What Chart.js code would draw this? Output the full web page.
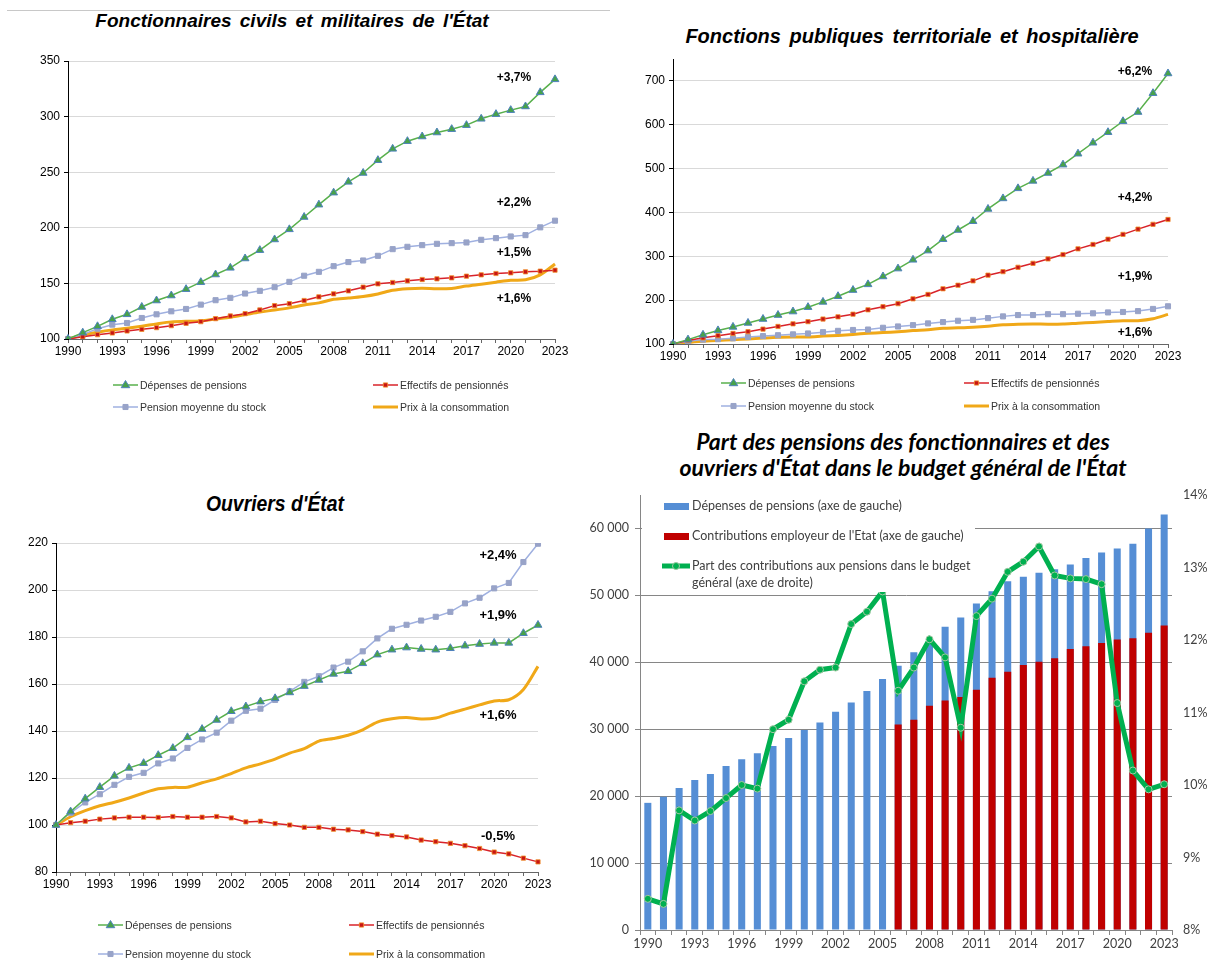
<!DOCTYPE html>
<html>
<head>
<meta charset="utf-8">
<script src="https://cdn.jsdelivr.net/npm/chart.js@4.4.1/dist/chart.umd.min.js"></script>
<style>
  body { margin: 0; background: #fff; width: 1212px; height: 960px; position: relative; overflow: hidden; }
  canvas { position: absolute; }
  .title { position: absolute; transform: translateX(-50%); white-space: nowrap; color: #000;
           font-family: 'Liberation Sans', Arial, sans-serif; font-weight: bold; font-style: italic; }
  .rule { position: absolute; left: 7px; top: 10px; width: 603px; height: 1px; background: #c8c8c8; }
</style>
</head>
<body>
<div class="rule"></div>
<div class="title" style="left:292px; top:10px; font-size:19px; word-spacing:3px;">Fonctionnaires civils et militaires de l'État</div>
<div class="title" style="left:912px; top:25px; font-size:20px; word-spacing:3px;">Fonctions publiques territoriale et hospitalière</div>
<div class="title" style="left:275px; top:491px; font-size:22px; transform:translateX(-50%) scaleX(0.88);">Ouvriers d'État</div>
<div class="title" style="left:903px; top:428px; font-size:23px; line-height:26px; text-align:center; font-family:Lato,'Open Sans',sans-serif;">Part des pensions des fonctionnaires et des<br>ouvriers d'État dans le budget général de l'État</div>

<canvas id="c1" width="610" height="420" style="left:0; top:0;"></canvas>
<canvas id="c2" width="602" height="420" style="left:610px; top:0;"></canvas>
<canvas id="c3" width="600" height="490" style="left:0; top:470px;"></canvas>
<canvas id="c4" width="632" height="540" style="left:580px; top:420px;"></canvas>

<script>
    "use strict";

    var years = ['1990', '1991', '1992', '1993', '1994', '1995', '1996', '1997', '1998', '1999',
        '2000', '2001', '2002', '2003', '2004', '2005', '2006', '2007', '2008', '2009',
        '2010', '2011', '2012', '2013', '2014', '2015', '2016', '2017', '2018', '2019',
        '2020', '2021', '2022', '2023'];

    var seriesLabels = ['Dépenses de pensions', 'Effectifs de pensionnés',
        'Pension moyenne du stock', 'Prix à la consommation'];

    // Prix à la consommation (base 100 en 1990), commun aux trois graphiques
    var prixConso = [100, 103.5, 106.1, 108.2, 109.7, 111.5, 113.6, 115.4, 116.0, 116.1,
        118.0, 119.6, 121.9, 124.3, 126.0, 128.0, 130.6, 132.5, 135.7, 136.8,
        138.2, 140.5, 143.8, 145.2, 145.7, 145.1, 145.5, 147.6, 149.3, 151.1,
        152.8, 153.3, 157.7, 167.5];

    // Fonctionnaires civils et militaires de l'État
    var fcDepenses = [100, 105.7, 111.4, 117.7, 122.2, 128.8, 134.6, 139.1, 144.8, 151.1,
        158.0, 164.0, 172.4, 179.9, 189.5, 198.6, 209.7, 220.8, 231.6, 241.3,
        249.3, 260.8, 271.0, 277.9, 282.1, 285.7, 288.7, 292.3, 298.0, 302.2,
        305.8, 309.1, 321.8, 333.5];
    var fcEffectifs = [100, 102.0, 103.9, 105.4, 107.2, 108.7, 110.2, 112.0, 114.1, 115.6,
        118.3, 120.7, 122.8, 126.1, 130.0, 131.8, 134.6, 137.9, 140.6, 143.3,
        146.6, 149.6, 150.8, 152.3, 153.5, 154.1, 155.0, 156.5, 157.7, 158.9,
        159.5, 160.4, 161.0, 161.9];
    var fcPensionMoy = [100, 104.0, 109.3, 112.9, 114.4, 118.9, 122.2, 124.9, 127.0, 130.9,
        134.9, 137.0, 140.9, 143.3, 146.6, 151.4, 156.9, 160.4, 165.5, 169.2,
        170.6, 174.8, 180.8, 182.9, 184.4, 185.6, 186.2, 186.8, 189.2, 190.7,
        192.2, 193.4, 200.4, 206.4];
    var fcTaux = ['+3,7%', '+2,2%', '+1,5%', '+1,6%'];
    var fcTicks = [100, 150, 200, 250, 300, 350];

    // Fonctions publiques territoriale et hospitalière
    var flDepenses = [100, 110, 121, 131, 139, 148, 157, 166, 174, 184,
        196, 209, 223, 236, 254, 272, 292, 313, 339, 360,
        380, 408, 432, 455, 472, 490, 509, 534, 559, 583,
        608, 629, 672, 717];
    var flEffectifs = [100, 108, 114, 119, 124, 128, 134, 140, 146, 151,
        157, 162, 168, 178, 185, 192, 203, 213, 226, 234,
        244, 257, 265, 275, 284, 294, 304, 317, 327, 339,
        350, 362, 373, 384];
    var flPensionMoy = [100, 106, 110, 111, 113, 116, 118, 120, 122, 124,
        127, 130, 132, 133, 137, 140, 143, 147, 150, 153,
        155, 159, 163, 166, 166, 168, 168, 169, 170, 172,
        173, 175, 180, 186];
    var flTaux = ['+6,2%', '+4,2%', '+1,9%', '+1,6%'];
    var flTicks = [100, 200, 300, 400, 500, 600, 700];

    // Ouvriers d'État
    var oeDepenses = [100, 105.7, 111.2, 116.1, 120.9, 124.3, 126.3, 129.7, 132.7, 137.3,
        140.8, 144.7, 148.4, 150.4, 152.5, 153.9, 156.4, 159.1, 161.7, 164.3,
        165.4, 168.8, 172.5, 174.6, 175.5, 174.9, 174.6, 175.2, 176.3, 177.0,
        177.5, 177.5, 181.6, 185.1];
    var oeEffectifs = [100, 101.0, 101.6, 102.5, 103.0, 103.3, 103.3, 103.2, 103.6, 103.3,
        103.3, 103.6, 103.0, 101.3, 101.6, 100.6, 100.0, 99.0, 99.0, 98.2,
        97.9, 97.2, 96.1, 95.5, 94.9, 93.6, 92.9, 92.2, 91.2, 90.0,
        88.5, 87.7, 85.9, 84.3];
    var oePensionMoy = [100, 105.2, 109.6, 113.1, 117.1, 120.5, 122.2, 126.2, 128.3, 132.8,
        136.4, 139.3, 144.4, 148.6, 149.5, 153.2, 156.9, 160.9, 163.3, 167.0,
        169.5, 173.9, 179.4, 183.5, 185.2, 187.0, 188.6, 190.7, 194.3, 196.7,
        200.7, 203.0, 211.9, 219.7];
    var oeTaux = ['+2,4%', '+1,9%', '+1,6%', '-0,5%'];
    var oeTicks = [80, 100, 120, 140, 160, 180, 200, 220];

    // Part des pensions dans le budget général de l'État (M€ et %)
    var budgetLabels = ['Dépenses de pensions (axe de gauche)',
        "Contributions employeur de l'Etat (axe de gauche)",
        'Part des contributions aux pensions dans le budget général (axe de droite)'];
    var budgetDepenses = [19000, 19900, 21200, 22400, 23300, 24500, 25500, 26400, 27500, 28700,
        29900, 31000, 32600, 34000, 35700, 37500, 39500, 41500, 42900, 45300,
        46700, 48800, 50600, 52100, 52800, 53400, 53900, 54600, 55600, 56400,
        57000, 57700, 60000, 62100];
    var budgetContrib = [null, null, null, null, null, null, null, null, null, null,
        null, null, null, null, null, null, 30700, 31400, 33500, 34300,
        34800, 35900, 37700, 38600, 39600, 40100, 40600, 42000, 42400, 42900,
        43400, 43600, 44400, 45500];
    var budgetPart = [8.43, 8.36, 9.65, 9.51, 9.64, 9.82, 10.0, 9.95, 10.77, 10.90,
        11.43, 11.59, 11.62, 12.22, 12.39, 12.67, 11.30, 11.62, 12.01, 11.76,
        10.79, 12.33, 12.57, 12.94, 13.08, 13.29, 12.89, 12.85, 12.84, 12.77,
        11.13, 10.20, 9.94, 10.01];
    var budgetTicks = [0, 10000, 20000, 30000, 40000, 50000, 60000];
    var partTicks = [8, 9, 10, 11, 12, 13, 14];

    Chart.defaults.font.family = "'Liberation Sans', Arial, sans-serif";
    Chart.defaults.animation = false;

    function drawMarker(ctx, style, x, y, r) {
        ctx.beginPath();
        if (style === 'triangle') {
            ctx.moveTo(x, y - r);
            ctx.lineTo(x + r * 0.95, y + r * 0.6);
            ctx.lineTo(x - r * 0.95, y + r * 0.6);
            ctx.closePath();
        } else if (style === 'rect') {
            var s = r * Math.SQRT1_2;
            ctx.rect(x - s, y - s, 2 * s, 2 * s);
        } else {
            ctx.arc(x, y, r, 0, Math.PI * 2);
        }
        ctx.fill();
        ctx.stroke();
    }

    function fixedTicks(list) {
        return function (s) {
            s.ticks = list.map(function (v) { return { value: v }; });
        };
    }

    // légende en grille 2 x 2 sous les courbes
    var gridLegend = {
        id: 'gridLegend',
        afterDraw: function (chart, args, o) {
            if (!o.cols) {
                return;
            }
            var ctx = chart.ctx;
            chart.data.datasets.forEach(function (d, i) {
                var x = o.cols[i % 2];
                var y = o.rows[Math.floor(i / 2)];
                ctx.save();
                ctx.strokeStyle = d.borderColor;
                ctx.lineWidth = d.borderWidth;
                ctx.beginPath();
                ctx.moveTo(x, y);
                ctx.lineTo(x + o.symbol, y);
                ctx.stroke();
                if (d.pointRadius > 0) {
                    ctx.fillStyle = d.pointBackgroundColor;
                    ctx.strokeStyle = d.pointBorderColor;
                    ctx.lineWidth = d.pointBorderWidth;
                    drawMarker(ctx, d.pointStyle, x + o.symbol / 2, y, d.pointRadius);
                }
                ctx.fillStyle = o.color;
                ctx.font = o.font;
                ctx.textBaseline = 'middle';
                ctx.fillText(d.label, x + o.symbol + 2, y + 1);
                ctx.restore();
            });
        }
    };

    // taux annuels moyens écrits à droite des courbes
    var rateNotes = {
        id: 'rateNotes',
        afterDatasetsDraw: function (chart, args, o) {
            if (!o.texts) {
                return;
            }
            var ctx = chart.ctx;
            ctx.save();
            ctx.font = o.font;
            ctx.fillStyle = '#000';
            ctx.textAlign = 'center';
            ctx.textBaseline = 'middle';
            o.texts.forEach(function (t, i) {
                ctx.fillText(t, chart.chartArea.right - o.dx, chart.scales.y.getPixelForValue(o.at[i]));
            });
            ctx.restore();
        }
    };

    function makeLineChart(id, series, taux, ticks, box) {
        var datasets = [{
            label: seriesLabels[0], data: series[0], order: 1,
            borderColor: '#58b04c', borderWidth: 1.5,
            pointStyle: 'triangle', pointRadius: 4.5,
            pointBackgroundColor: '#47a24a', pointBorderColor: '#4f81bd', pointBorderWidth: 1
        }, {
            label: seriesLabels[1], data: series[1], order: 2,
            borderColor: '#d8232a', borderWidth: 1.5,
            pointStyle: 'rect', pointRadius: 3,
            pointBackgroundColor: '#c81414', pointBorderColor: '#f0902a', pointBorderWidth: 0.8
        }, {
            label: seriesLabels[2], data: series[2], order: 3,
            borderColor: '#9fb0e0', borderWidth: 1.5,
            pointStyle: 'rect', pointRadius: 3.6,
            pointBackgroundColor: '#98a3c8', pointBorderColor: '#98a3c8', pointBorderWidth: 1
        }, {
            label: seriesLabels[3], data: prixConso, order: 4,
            borderColor: '#f0a818', borderWidth: 3, pointRadius: 0, tension: 0.3
        }];

        return new Chart(document.getElementById(id), {
            type: 'line',
            data: { labels: years, datasets: datasets },
            plugins: [gridLegend, rateNotes],
            options: {
                responsive: false,
                layout: { padding: { left: 0, right: box.right, top: box.top, bottom: box.bottom } },
                plugins: {
                    legend: { display: false },
                    tooltip: { enabled: false },
                    gridLegend: { cols: box.cols, rows: box.rows, symbol: 25, color: '#333',
                        font: "10.5px 'Liberation Sans', Arial, sans-serif" },
                    rateNotes: { texts: taux, at: box.notes, dx: box.dx,
                        font: box.noteFont || "bold 12px 'Liberation Sans', Arial, sans-serif" }
                },
                scales: {
                    x: {
                        offset: false,
                        grid: { drawOnChartArea: false, tickLength: 4, color: '#666' },
                        border: { color: '#666' },
                        ticks: {
                            autoSkip: false, maxRotation: 0, color: '#000', padding: 1,
                            font: { size: 12 },
                            callback: function (v, i) { return i % 3 === 0 ? years[i] : ''; }
                        },
                        afterFit: function (s) { s.height = 25; }
                    },
                    y: {
                        min: box.min, max: box.max,
                        ticks: { color: '#000', padding: 4, font: { size: 12 } },
                        grid: { color: '#d9d9d9', tickColor: '#000', tickLength: 4 },
                        border: { color: '#000' },
                        afterBuildTicks: fixedTicks(ticks),
                        afterFit: function (s) { s.width = box.yw; }
                    }
                }
            }
        });
    }

    makeLineChart('c1', [fcDepenses, fcEffectifs, fcPensionMoy], fcTaux, fcTicks, {
        yw: 68, top: 61, right: 55, bottom: 56, min: 100, max: 350,
        cols: [113, 373], rows: [385, 407],
        notes: [334.7, 222.3, 177.3, 136], dx: 41
    });

    makeLineChart('c2', [flDepenses, flEffectifs, flPensionMoy], flTaux, flTicks, {
        yw: 63, top: 59, right: 44, bottom: 51, min: 100, max: 750,
        cols: [111, 354], rows: [383, 406],
        notes: [720.5, 433, 253, 125], dx: 33
    });

    makeLineChart('c3', [oeDepenses, oeEffectifs, oePensionMoy], oeTaux, oeTicks, {
        yw: 56, top: 73, right: 62, bottom: 63, min: 80, max: 220,
        cols: [98, 349], rows: [455, 484],
        notes: [214.7, 189.2, 146.5, 95.3], dx: 40,
        noteFont: "bold 13px 'Liberation Sans', Arial, sans-serif"
    });

    // légende encadrée du graphique budgétaire
    var budgetLegend = {
        id: 'budgetLegend',
        afterDraw: function (chart, args, o) {
            var ctx = chart.ctx;
            var ds = chart.data.datasets;
            ctx.save();
            ctx.fillStyle = '#fff';
            ctx.fillRect(o.box[0], o.box[1], o.box[2], o.box[3]);
            ctx.font = o.font;
            ctx.textBaseline = 'middle';
            // barres
            [2, 1].forEach(function (k, row) {
                ctx.fillStyle = ds[k].backgroundColor;
                ctx.fillRect(o.x, o.rows[row] - 3, 25, 7);
                ctx.fillStyle = o.color;
                ctx.fillText(ds[k].label, o.x + 28, o.rows[row]);
            });
            // courbe
            var y = o.rows[2];
            ctx.strokeStyle = ds[0].borderColor;
            ctx.lineWidth = ds[0].borderWidth;
            ctx.beginPath();
            ctx.moveTo(o.x - 2, y);
            ctx.lineTo(o.x + 26, y);
            ctx.stroke();
            ctx.fillStyle = ds[0].pointBackgroundColor;
            ctx.strokeStyle = ds[0].pointBorderColor;
            ctx.lineWidth = 1;
            drawMarker(ctx, 'circle', o.x + 12, y, ds[0].pointRadius);
            ctx.fillStyle = o.color;
            var words = ds[0].label.split(' ');
            ctx.fillText(words.slice(0, 8).join(' '), o.x + 28, y);
            ctx.fillText(words.slice(8).join(' '), o.x + 28, y + 17);
            ctx.restore();
        }
    };

    function spaced(v) {
        return String(v).replace(/\B(?=(\d{3})+(?!\d))/g, ' ');
    }

    new Chart(document.getElementById('c4'), {
        type: 'bar',
        data: {
            labels: years,
            datasets: [{
                type: 'line', label: budgetLabels[2], data: budgetPart, yAxisID: 'y1', order: 0,
                borderColor: '#00b050', borderWidth: 5,
                pointRadius: 3.5, pointBackgroundColor: '#00b050',
                pointBorderColor: '#a3c8a3', pointBorderWidth: 1
            }, {
                label: budgetLabels[1], data: budgetContrib, order: 1, grouped: false,
                backgroundColor: '#c00000', barPercentage: 0.45, categoryPercentage: 1
            }, {
                label: budgetLabels[0], data: budgetDepenses, order: 2, grouped: false,
                backgroundColor: '#558ed5', barPercentage: 0.45, categoryPercentage: 1
            }]
        },
        plugins: [budgetLegend],
        options: {
            responsive: false,
            layout: { padding: { left: 0, right: 0, top: 75, bottom: 5 } },
            plugins: {
                legend: { display: false },
                tooltip: { enabled: false },
                budgetLegend: { box: [62, 77, 333, 95], x: 84, rows: [86, 116, 146], color: '#404040',
                    font: "12.5px Lato, 'Open Sans', sans-serif" }
            },
            scales: {
                x: {
                    offset: true,
                    grid: { offset: true, drawOnChartArea: false, tickLength: 5, color: '#868686' },
                    border: { color: '#868686' },
                    ticks: {
                        autoSkip: false, maxRotation: 0, color: '#404040', padding: 1,
                        font: { size: 12.5, family: "Lato, 'Open Sans', sans-serif" },
                        callback: function (v, i) { return i % 3 === 0 ? years[i] : ''; }
                    },
                    afterFit: function (s) { s.height = 25; }
                },
                y: {
                    position: 'left', min: 0, max: 65000,
                    ticks: {
                        color: '#404040', padding: 6,
                        font: { size: 12.5, family: "Lato, 'Open Sans', sans-serif" },
                        callback: function (v) { return spaced(v); }
                    },
                    grid: { color: '#868686', tickLength: 5 },
                    border: { color: '#868686' },
                    afterBuildTicks: fixedTicks(budgetTicks),
                    afterFit: function (s) { s.width = 60; }
                },
                y1: {
                    position: 'right', min: 8, max: 14,
                    ticks: {
                        color: '#404040', padding: 11,
                        font: { size: 12.5, family: "Lato, 'Open Sans', sans-serif" },
                        callback: function (v) { return v + '%'; }
                    },
                    grid: { display: true, drawOnChartArea: false, drawTicks: false },
                    border: { display: false },
                    afterBuildTicks: fixedTicks(partTicks),
                    afterFit: function (s) { s.width = 40; }
                }
            }
        }
    });
</script>
</body>
</html>
